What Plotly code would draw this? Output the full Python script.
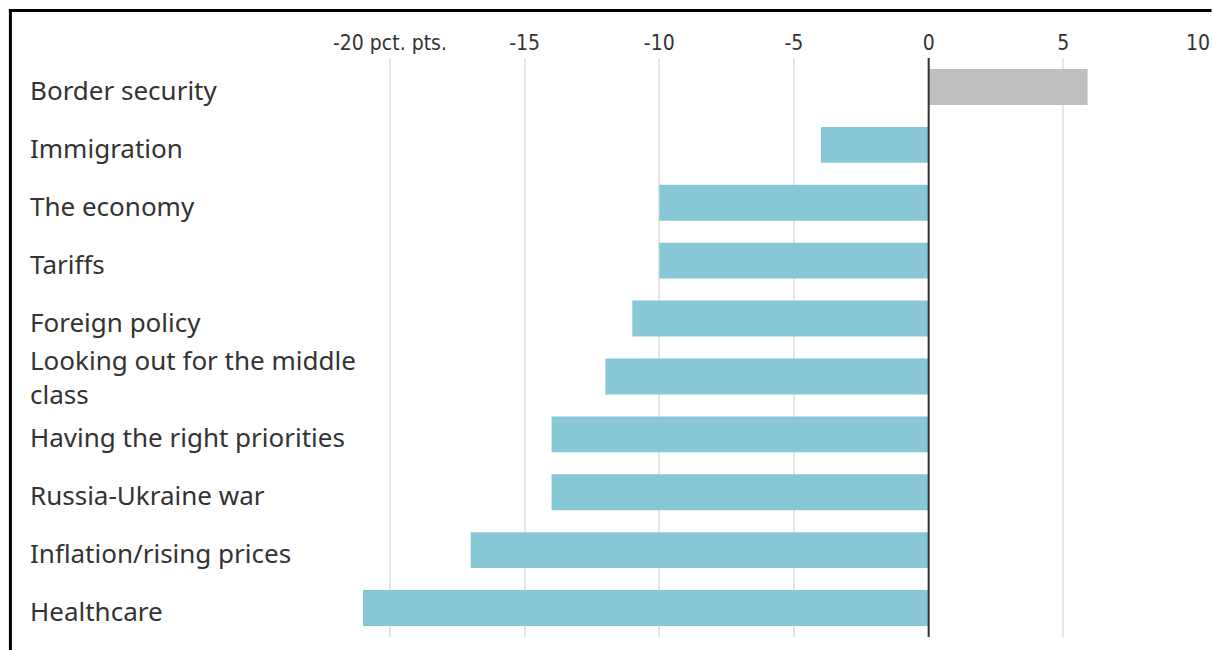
import plotly.graph_objects as go

categories = [
    "Border security",
    "Immigration",
    "The economy",
    "Tariffs",
    "Foreign policy",
    "Looking out for the middle class",
    "Having the right priorities",
    "Russia-Ukraine war",
    "Inflation/rising prices",
    "Healthcare",
]
values = [5.9, -4, -10, -10, -11, -12, -14, -14, -17, -21]
tick_vals = [-20, -15, -10, -5, 0, 5, 10]
tick_text = ["-20 pct. pts.", "-15", "-10", "-5", "0", "5", "10"]

POS_COLOR = "#BFBFBF"
NEG_COLOR = "#88C8D6"
TEXT = "#333333"
FONT = "Noto Sans"
COND_FONT = "DejaVu Sans Condensed, Liberation Sans Narrow, Noto Sans"

W, H = 1212, 650
ML, MR, MT, MB = 362.5, 13.5, 58, 13
PW, PH = W - ML - MR, H - MT - MB


def px_x(p):
    return (p - ML) / PW


def px_y(p):
    return (H - MB - p) / PH


colors = [POS_COLOR if v > 0 else NEG_COLOR for v in values]

fig = go.Figure(
    go.Bar(
        x=values,
        y=categories,
        orientation="h",
        marker=dict(color=colors, line=dict(width=0)),
        hoverinfo="x+y",
    )
)

labels = {"Looking out for the middle class": "Looking out for the middle<br>class"}
for c in categories:
    multi = c in labels
    fig.add_annotation(
        x=px_x(27), xref="paper", y=c, yref="y",
        text=labels.get(c, c), showarrow=False,
        xanchor="left", yanchor="middle", align="left",
        yshift=-1 if multi else -3,
        font=dict(family=FONT, size=26, color=TEXT, lineposition="none"),
    )

# zero reference line
fig.add_shape(type="line", x0=0, x1=0, xref="x", y0=0, y1=1, yref="paper",
              line=dict(color=TEXT, width=2), layer="above")
# frame lines (top and left)
fig.add_shape(type="line", x0=px_x(8), x1=px_x(1212), y0=px_y(10.5), y1=px_y(10.5),
              xref="paper", yref="paper", line=dict(color="black", width=3))
fig.add_shape(type="line", x0=px_x(9.5), x1=px_x(9.5), y0=px_y(9), y1=px_y(650),
              xref="paper", yref="paper", line=dict(color="black", width=3))

fig.update_layout(
    width=W, height=H,
    margin=dict(l=ML, r=MR, t=MT, b=MB, pad=0, autoexpand=False),
    paper_bgcolor="white", plot_bgcolor="white",
    showlegend=False,
    bargap=0.38,
    xaxis=dict(
        side="top", range=[-21, 10], tickvals=tick_vals, ticktext=tick_text,
        showgrid=True, gridcolor="#E6E6E6", gridwidth=1.5, zeroline=False,
        ticks="", showline=False, automargin=False, ticklabelstandoff=3,
        tickfont=dict(family=COND_FONT, size=21, color=TEXT),
        fixedrange=True,
    ),
    yaxis=dict(
        autorange="reversed", showticklabels=False, showgrid=False,
        zeroline=False, ticks="", fixedrange=True, automargin=False,
    ),
)

fig.write_html("out.html", config={"displayModeBar": False})
